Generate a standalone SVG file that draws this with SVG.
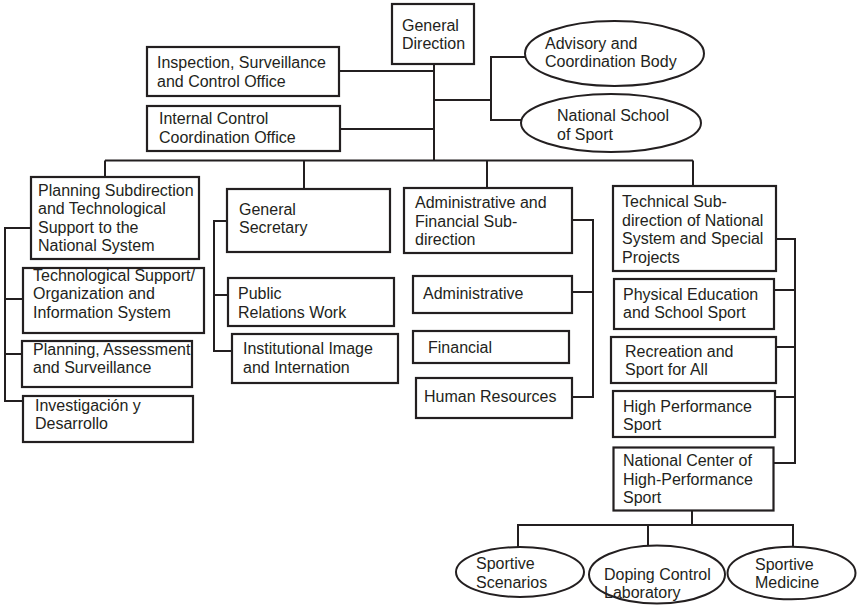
<svg xmlns="http://www.w3.org/2000/svg" width="857" height="605" viewBox="0 0 857 605">
<style>
  .box { fill: #ffffff; stroke: #231f20; stroke-width: 2.2; }
  .ell { fill: #ffffff; stroke: #231f20; stroke-width: 2; }
  .conn { fill: none; stroke: #231f20; stroke-width: 2; }
  text { font-family: "Liberation Sans", Arial, sans-serif; font-size: 16px; fill: #231f20; }
</style>
<rect width="857" height="605" fill="#ffffff"/>
<g id="connectors">
  <path class="conn" d="M434 64 V160.5"/>
  <path class="conn" d="M339 71 H434"/>
  <path class="conn" d="M340 129 H434"/>
  <path class="conn" d="M434 100 H491"/>
  <path class="conn" d="M525 57 H491 V120 H521"/>
  <path class="conn" d="M105 160.5 H693"/>
  <path class="conn" d="M105 160.5 V177"/>
  <path class="conn" d="M304 160.5 V189"/>
  <path class="conn" d="M487 160.5 V188"/>
  <path class="conn" d="M693 160.5 V186"/>
  <path class="conn" d="M31 228 H5 V401 H23"/>
  <path class="conn" d="M5 299 H23"/>
  <path class="conn" d="M5 354 H22"/>
  <path class="conn" d="M227 221 H214 V351 H232"/>
  <path class="conn" d="M214 295 H228"/>
  <path class="conn" d="M572 220 H593 V397 H572"/>
  <path class="conn" d="M572 292 H593"/>
  <path class="conn" d="M776 239 H795 V463 H773"/>
  <path class="conn" d="M774 290 H795"/>
  <path class="conn" d="M776 347 H795"/>
  <path class="conn" d="M775 397 H795"/>
  <path class="conn" d="M692 511 V525"/>
  <path class="conn" d="M518 547 V525 H793 V547"/>
  <path class="conn" d="M648 525 V546"/>
</g>
<g id="general-direction">
  <rect class="box" x="392" y="4" width="82" height="60"/>
  <text x="402" y="31">General</text>
  <text x="402" y="49">Direction</text>
</g>
<g id="inspection-office">
  <rect class="box" x="147" y="47" width="192" height="49"/>
  <text x="157" y="68">Inspection, Surveillance</text>
  <text x="157" y="86.5">and Control Office</text>
</g>
<g id="internal-control-office">
  <rect class="box" x="147" y="106" width="193" height="45"/>
  <text x="159" y="124">Internal Control</text>
  <text x="159" y="142.5">Coordination Office</text>
</g>
<g id="advisory-body">
  <ellipse class="ell" cx="614.5" cy="53.5" rx="89.5" ry="32.5"/>
  <text x="545" y="48.5">Advisory and</text>
  <text x="545" y="67">Coordination Body</text>
</g>
<g id="national-school">
  <ellipse class="ell" cx="611" cy="123" rx="90" ry="29"/>
  <text x="557" y="121">National School</text>
  <text x="557" y="139.5">of Sport</text>
</g>
<g id="planning-subdirection">
  <rect class="box" x="31" y="177" width="168" height="82"/>
  <text x="38" y="196">Planning Subdirection</text>
  <text x="38" y="214.3">and Technological</text>
  <text x="38" y="232.6">Support to the</text>
  <text x="38" y="251">National System</text>
</g>
<g id="technological-support">
  <rect class="box" x="23" y="268" width="181" height="65"/>
  <text x="33" y="281">Technological Support/</text>
  <text x="33" y="299.3">Organization and</text>
  <text x="33" y="317.6">Information System</text>
</g>
<g id="planning-assessment">
  <rect class="box" x="22" y="341" width="170" height="46"/>
  <text x="33" y="355">Planning, Assessment</text>
  <text x="33" y="373">and Surveillance</text>
</g>
<g id="investigacion">
  <rect class="box" x="23" y="396" width="170" height="46"/>
  <text x="35" y="411">Investigación y</text>
  <text x="35" y="429">Desarrollo</text>
</g>
<g id="general-secretary">
  <rect class="box" x="227" y="189" width="163" height="63"/>
  <text x="239" y="215">General</text>
  <text x="239" y="233.3">Secretary</text>
</g>
<g id="public-relations">
  <rect class="box" x="228" y="278" width="166" height="48"/>
  <text x="238" y="299.3">Public</text>
  <text x="238" y="317.6">Relations Work</text>
</g>
<g id="institutional-image">
  <rect class="box" x="232" y="334" width="166" height="49"/>
  <text x="243" y="354">Institutional Image</text>
  <text x="243" y="372.6">and Internation</text>
</g>
<g id="admin-financial">
  <rect class="box" x="404" y="188" width="168" height="65"/>
  <text x="415" y="208.3">Administrative and</text>
  <text x="415" y="226.6">Financial Sub-</text>
  <text x="415" y="245">direction</text>
</g>
<g id="administrative">
  <rect class="box" x="413" y="276" width="159" height="37"/>
  <text x="423" y="299.3">Administrative</text>
</g>
<g id="financial">
  <rect class="box" x="413" y="331" width="156" height="32"/>
  <text x="428" y="353.3">Financial</text>
</g>
<g id="human-resources">
  <rect class="box" x="416" y="378" width="156" height="40"/>
  <text x="424" y="401.6">Human Resources</text>
</g>
<g id="technical-subdirection">
  <rect class="box" x="613" y="186" width="163" height="85"/>
  <text x="622" y="207.3">Technical Sub-</text>
  <text x="622" y="225.8">direction of National</text>
  <text x="622" y="244.3">System and Special</text>
  <text x="622" y="262.7">Projects</text>
</g>
<g id="physical-education">
  <rect class="box" x="614" y="279" width="160" height="50"/>
  <text x="623" y="300">Physical Education</text>
  <text x="623" y="318.3">and School Sport</text>
</g>
<g id="recreation">
  <rect class="box" x="611" y="337" width="165" height="46"/>
  <text x="625" y="356.7">Recreation and</text>
  <text x="625" y="375">Sport for All</text>
</g>
<g id="high-performance">
  <rect class="box" x="613" y="391" width="162" height="46"/>
  <text x="623" y="411.7">High Performance</text>
  <text x="623" y="430">Sport</text>
</g>
<g id="national-center">
  <rect class="box" x="613.5" y="447.5" width="160" height="63"/>
  <text x="623" y="466">National Center of</text>
  <text x="623" y="484.6">High-Performance</text>
  <text x="623" y="503.3">Sport</text>
</g>
<g id="sportive-scenarios">
  <ellipse class="ell" cx="520" cy="572" rx="64" ry="25"/>
  <text x="476" y="569.3">Sportive</text>
  <text x="476" y="588.3">Scenarios</text>
</g>
<g id="doping-laboratory">
  <ellipse class="ell" cx="657" cy="574.5" rx="68" ry="29"/>
  <text x="604" y="580">Doping Control</text>
  <text x="604" y="598.3">Laboratory</text>
</g>
<g id="sportive-medicine">
  <ellipse class="ell" cx="791.5" cy="573" rx="64" ry="26.3"/>
  <text x="755" y="570">Sportive</text>
  <text x="755" y="588.3">Medicine</text>
</g>
</svg>
